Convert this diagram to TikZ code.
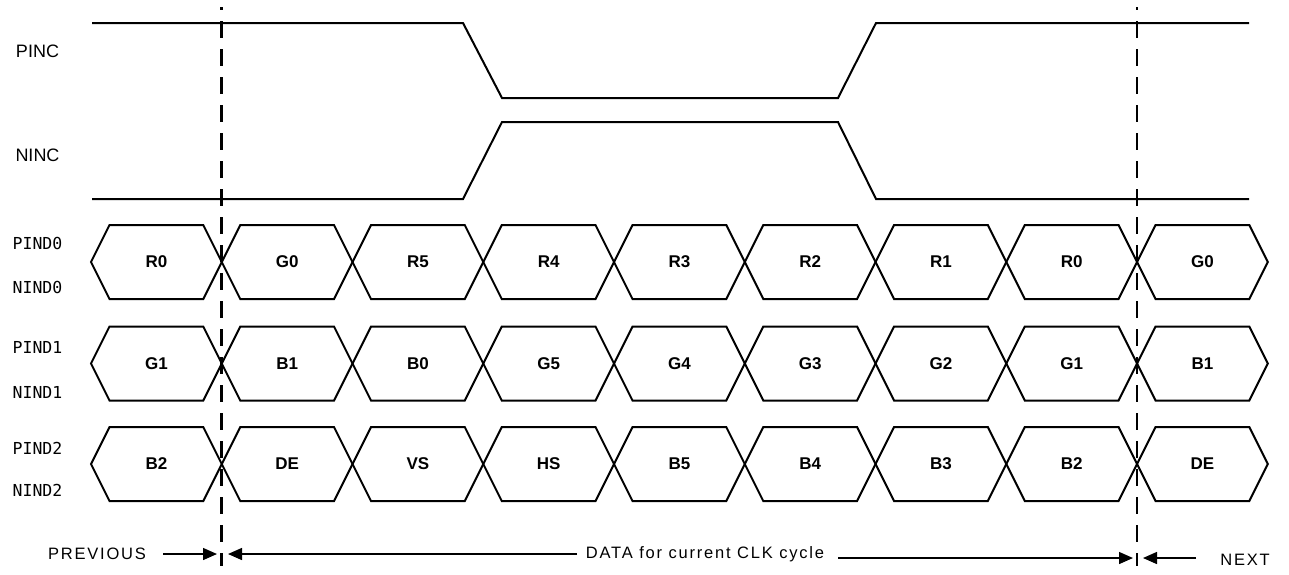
\documentclass[tikz,border=0pt]{standalone}
\usepackage{fontspec}
\setmainfont{Liberation Sans}
\newfontfamily\monof{DejaVu Sans Mono}
\newfontfamily\spacedf[LetterSpace=11]{Liberation Sans}
\usetikzlibrary{arrows.meta}
\begin{document}
\begin{tikzpicture}[x=1pt,y=-1pt,
  sig/.style={line width=2pt, line join=miter, line cap=butt},
  dline/.style={line width=2.8pt, dash pattern=on 17pt off 11pt, dash phase=14pt},
  arr/.style={line width=1.4pt, -{Triangle[length=14pt,width=12pt]}},
  clklab/.style={inner sep=0pt, font=\fontsize{18}{20}\selectfont},
  sigl/.style={inner sep=0pt, font=\monof\fontsize{16.5}{18}\selectfont},
  hexlab/.style={inner sep=0pt, font=\bfseries\fontsize{17}{19}\selectfont},
  botlab/.style={inner sep=0pt, font=\spacedf\fontsize{16.5}{18}\selectfont}]
\useasboundingbox (0,0) rectangle (1289,574);

% clock signals
\draw[sig] (92,23) -- (463,23) -- (502,98) -- (838,98) -- (876,23) -- (1249,23);
\draw[sig] (92,199) -- (463,199) -- (502,122) -- (838,122) -- (876,199) -- (1249,199);
\node[clklab] (pinc) at (37.5,51) {PINC};
\node[clklab] (ninc) at (37.5,155) {NINC};

% data rows
\newcommand\tdhexrow[3]{%
  \foreach \lab [count=\k from 0] in {#2} {
    \pgfmathsetmacro\xa{91+130.75*\k}
    \pgfmathsetmacro\xb{\xa+130.75}
    \draw[sig] (\xa,#1) -- (\xa+18.5,#1-37) -- (\xb-18.5,#1-37) -- (\xb,#1)
      -- (\xb-18.5,#1+37) -- (\xa+18.5,#1+37) -- cycle;
    \node[hexlab] (#3\k) at ({(\xa+\xb)/2},#1) {\lab};
  }}
\tdhexrow{262}{R0,G0,R5,R4,R3,R2,R1,R0,G0}{da}
\tdhexrow{363.5}{G1,B1,B0,G5,G4,G3,G2,G1,B1}{db}
\tdhexrow{464}{B2,DE,VS,HS,B5,B4,B3,B2,DE}{dc}

\node[sigl] (pind0) at (37.5,243) {PIND0};
\node[sigl] (nind0) at (37.5,287) {NIND0};
\node[sigl] (pind1) at (37.5,347) {PIND1};
\node[sigl] (nind1) at (37.5,392) {NIND1};
\node[sigl] (pind2) at (37.5,448) {PIND2};
\node[sigl] (nind2) at (37.5,490) {NIND2};

% dashed cycle boundaries
\coordinate (d1t) at (221.75,7);
\coordinate (d1b) at (221.75,566);
\coordinate (d2t) at (1137,7);
\coordinate (d2b) at (1137,566);
\draw[dline] (d1t) -- (d1b);
\draw[dline] (d2t) -- (d2b);

% bottom annotations
\node[botlab] (prev) at (97,554) {PREVIOUS};
\node[botlab] (next) at (1245,560) {NEXT};
\node[botlab] (data) at (705,554) {DATA for current CLK cycle};

\coordinate (prevs) at (163,554);
\coordinate (preve) at (217,554);
\coordinate (dl) at (228,554);
\coordinate (dls) at (577,554);
\coordinate (drs) at (838,558);
\coordinate (dr) at (1133,558);
\coordinate (nexts) at (1196,558);
\coordinate (nexte) at (1143,558);
\draw[arr] (prevs) -- (preve);
\draw[arr] (dls) -- (dl);
\draw[arr] (drs) -- (dr);
\draw[arr] (nexts) -- (nexte);
\end{tikzpicture}
\end{document}
